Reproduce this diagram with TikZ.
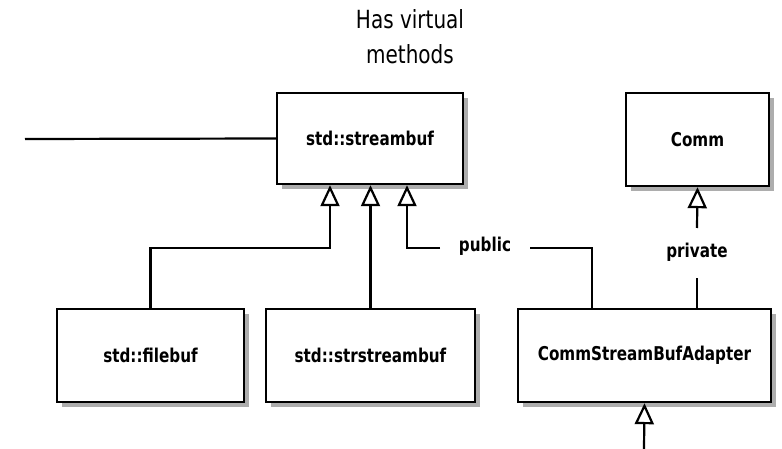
\documentclass[tikz,border=0pt]{standalone}
\usepackage{fontspec}
\setmainfont[FakeStretch=0.8]{DejaVu Sans}
\usetikzlibrary{arrows.meta,shadows}
\tikzset{
  cls/.style={draw=black, line width=2.4pt, fill=white, rectangle,
    font=\fontsize{19}{21}\selectfont\bfseries, inner sep=0pt,
    drop shadow={shadow xshift=5pt, shadow yshift=-5pt, fill=black!32, opacity=1}},
  conn/.style={draw=black, line width=2.2pt},
  inherit/.style={conn, -{Triangle[open, length=21pt, width=19pt, line width=2.2pt, fill=white]}},
  lbl/.style={font=\fontsize{19}{21}\selectfont\bfseries, inner sep=0pt},
  note/.style={font=\fontsize{25}{35}\selectfont, align=center, inner sep=0pt}
}
\begin{document}
\begin{tikzpicture}[x=1pt, y=-1pt]
\useasboundingbox (0,0) rectangle (782,449);

% classes
\node[cls, minimum width=186pt, minimum height=91pt] (sb) at (370,138.5) {std::streambuf};
\node[cls, minimum width=143pt, minimum height=93pt] (comm) at (697.5,139.5) {Comm};
\node[cls, minimum width=187pt, minimum height=93pt] (fb) at (150.5,355.5) {std::filebuf};
\node[cls, minimum width=209pt, minimum height=93pt] (ssb) at (370.5,355.5) {std::strstreambuf};
\node[cls, minimum width=253pt, minimum height=93pt] (adp) at (644.5,355.5) {CommStreamBufAdapter};

% note above std::streambuf
\node[note] (vnote) at (410,37) {Has virtual\\methods};

% line going out to the left of std::streambuf
\coordinate (lend) at (25,139);
\draw[conn] (lend) -- (sb.west);

% inheritance from std::streambuf
\draw[inherit] (fb.north) |- (330,248) -- (sb.south -| 330,0);
\draw[inherit] (ssb.north) -- (sb.south -| ssb.north);

\node[lbl] (pub) at (485,246) {public};
\coordinate (pubL) at (440,248);
\coordinate (pubR) at (530,248);
\draw[inherit] (pubL) -| (sb.south -| 407,0);
\draw[conn] (pubR) -| (adp.north -| 592,0);

% private inheritance from Comm
\node[lbl] (priv) at (697,252) {private};
\coordinate (privT) at (697,228);
\coordinate (privB) at (697,278);
\draw[inherit] (privT) -- (comm.south);
\draw[conn] (adp.north -| privB) -- (privB);

% something derives from the adapter
\coordinate (bend) at (644,449);
\draw[inherit] (bend) -- (adp.south);
\end{tikzpicture}
\end{document}
